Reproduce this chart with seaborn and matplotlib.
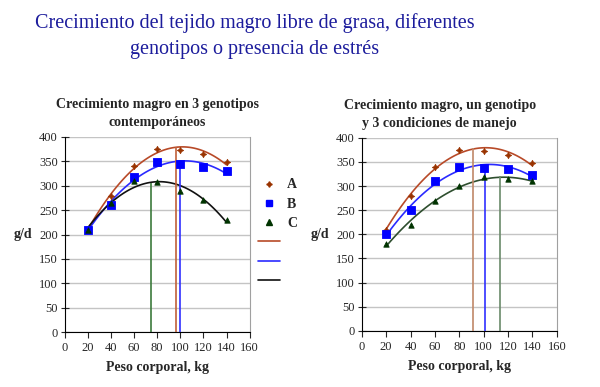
import matplotlib
matplotlib.use("Agg")
import matplotlib.pyplot as plt
from matplotlib.lines import Line2D
import seaborn as sns
import pandas as pd

# peso corporal (kg)
peso = [20, 40, 60, 80, 100, 120, 140]

# panel 1: 3 genotipos contemporaneos (g/d)
gen_a = [210, 280, 340, 375, 373, 365, 348]
gen_b = [210, 260, 318, 348, 345, 338, 330]
gen_c = [210, 265, 310, 307, 290, 270, 230]

# panel 2: un genotipo, 3 condiciones de manejo (g/d)
man_a = [210, 280, 340, 375, 372, 365, 347]
man_b = [200, 250, 310, 340, 338, 335, 323]
man_c = [180, 220, 270, 300, 318, 315, 310]

# peso of maximum growth (vertical lines) and their heights
vx_left = [75, 96, 100]
vy_left = [306, 380, 352]
vx_right = [91, 101, 113]
vy_right = [378, 345, 320]

sns.set_style("white")
plt.rcParams["font.family"] = ["Liberation Serif", "DejaVu Serif"]

fig = plt.figure(figsize=(6, 3.87), dpi=100)
ax1 = fig.add_axes([0.108, 0.142, 0.308, 0.504])
ax2 = fig.add_axes([0.603, 0.145, 0.325, 0.499])

fig.text(0.425, 0.94, "Crecimiento del tejido magro libre de grasa, diferentes",
         ha="center", va="center", fontsize=14.5, color="#1c1c9c")
fig.text(0.425, 0.873, "genotipos o presencia de estrés",
         ha="center", va="center", fontsize=14.5, color="#1c1c9c")

star = (4, 1, 0)


def panel(ax, ys, mk_colors, line_colors, vx, vy, vcolors):
    markers = [star, "s", "^"]
    sizes = [20, 28, 15]
    for y, mc, lc, m, s in zip(ys, mk_colors, line_colors, markers, sizes):
        df = pd.DataFrame({"peso": peso, "gd": y})
        sns.regplot(data=df, x="peso", y="gd", order=2, ci=None, ax=ax,
                    scatter=False, line_kws={"color": lc, "lw": 1.2})
        sns.scatterplot(data=df, x="peso", y="gd", ax=ax, marker=m,
                        color=mc, s=s, edgecolor=mc, linewidth=0.6, zorder=4)
    ax.vlines(vx, 0, vy, colors=vcolors, lw=1.2, zorder=3)
    ax.set_xlim(0, 160)
    ax.set_ylim(0, 400)
    ax.set_xticks(range(0, 161, 20))
    ax.set_yticks(range(0, 401, 50))
    ax.yaxis.grid(True, color="#c4c4c4", lw=1)
    ax.set_axisbelow(True)
    ax.spines["top"].set_visible(False)
    ax.spines["right"].set_color("#a0a0a0")
    for s in ["left", "bottom"]:
        ax.spines[s].set_color("black")
        ax.spines[s].set_linewidth(0.8)
    ax.tick_params(axis="y", direction="inout", length=6, width=0.8,
                   labelsize=9, left=True, pad=2)
    ax.tick_params(axis="x", direction="out", length=4, width=0.8,
                   labelsize=9, bottom=True, pad=3)
    ax.set_xlabel("Peso corporal, kg", fontsize=10, fontweight="bold", labelpad=5)
    ax.set_ylabel("g/d", fontsize=10, fontweight="bold", rotation=0,
                  labelpad=12, va="center")


panel(ax1, [gen_a, gen_b, gen_c],
      ["#993300", "#0000ff", "#003300"],
      ["#b84a28", "#2a2aff", "#111111"],
      vx_left, vy_left, ["#3c7a3c", "#c0603a", "#3030ff"])
panel(ax2, [man_a, man_b, man_c],
      ["#993300", "#0000ff", "#003300"],
      ["#b84a28", "#2a2aff", "#2e4e2e"],
      vx_right, vy_right, ["#c08868", "#3030ff", "#6a8a6a"])

ax1.set_title("Crecimiento magro en 3 genotipos\ncontemporáneos",
              fontsize=10, fontweight="bold", pad=8, linespacing=1.5)
ax2.set_title("Crecimiento magro, un genotipo\ny 3 condiciones de manejo",
              fontsize=10, fontweight="bold", pad=8, linespacing=1.5, x=0.40)

handles = [
    Line2D([], [], ls="", marker=star, color="#993300", ms=4),
    Line2D([], [], ls="", marker="s", color="#0000ff", ms=5),
    Line2D([], [], ls="", marker="^", color="#003300", ms=4),
    Line2D([], [], color="#b84a28", lw=1.2),
    Line2D([], [], color="#2a2aff", lw=1.2),
    Line2D([], [], color="#111111", lw=1.2),
]
labels = ["A", "B", "C", "", "", ""]
ax1.legend(handles, labels, loc="upper left", bbox_to_anchor=(1.0, 0.83),
           frameon=False, prop={"weight": "bold", "size": 10},
           handlelength=1.6, labelspacing=0.45, handletextpad=0.5,
           borderaxespad=0.2)

fig.savefig("out.png", dpi=100)
